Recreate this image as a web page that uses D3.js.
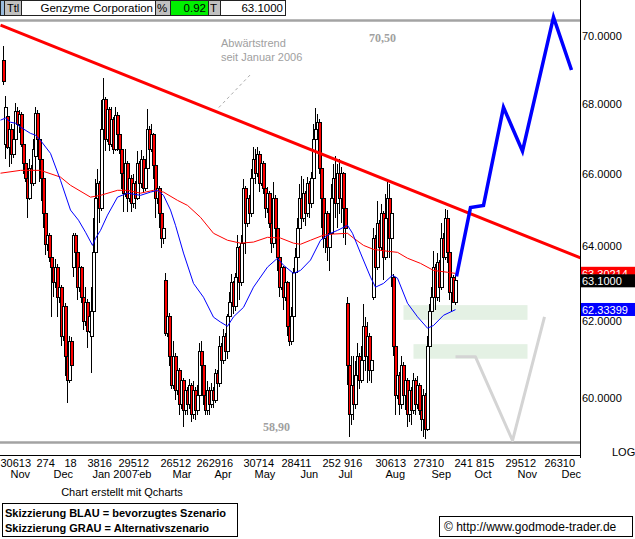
<!DOCTYPE html>
<html><head><meta charset="utf-8">
<script src="https://cdnjs.cloudflare.com/ajax/libs/d3/7.8.5/d3.min.js"></script>
<style>body{margin:0;background:#fff;}svg{display:block;font-family:"Liberation Sans",Arial,sans-serif;}</style>
</head><body><svg id="c" width="635" height="539"></svg>
<script>
// ---- DATA ----
const title = "Genzyme Corporation";
const changePct = "0.92";
const lastPrice = 63.10;
const ma200Last = 63.30214;
const ma20Last = 62.33399;
const opens = [69.32,66.88,67.68,66.80,67.31,66.60,67.02,67.82,67.45,67.74,66.88,66.32,65.90,65.35,66.18,65.76,66.54,67.77,67.02,66.46,
65.90,64.93,64.07,64.34,63.72,63.45,63.06,63.45,62.66,62.93,61.63,62.40,61.11,60.47,61.50,63.45,64.34,63.86,62.93,63.45,
62.66,62.01,62.53,61.76,61.63,62.27,63.86,65.35,65.76,65.07,67.31,68.16,67.02,67.88,66.88,67.59,66.74,67.71,67.16,66.74,
66.04,65.49,66.32,65.35,65.90,65.21,65.76,65.35,66.32,65.76,66.46,65.63,66.18,67.31,66.74,67.16,66.27,65.35,65.63,64.93,
64.26,63.11,61.70,62.14,61.11,60.35,61.11,60.22,60.73,59.85,60.47,59.72,60.22,59.85,60.35,59.60,60.22,59.72,60.10,61.24,
60.86,60.10,59.72,60.22,59.85,60.22,59.97,60.65,60.40,61.37,60.99,61.63,61.24,62.14,62.53,63.06,62.40,63.19,63.99,63.06,
64.12,65.63,64.66,65.35,64.93,65.90,66.46,66.04,66.60,65.76,66.32,65.63,65.07,65.49,64.66,64.12,65.35,64.53,63.72,62.93,
63.45,62.66,63.06,61.88,61.50,62.14,63.32,63.72,64.53,65.35,64.80,65.49,64.93,65.76,65.21,65.90,67.02,67.31,67.51,66.18,
65.35,64.26,64.93,63.99,64.39,65.35,65.90,65.21,66.04,65.35,66.04,65.07,62.50,60.86,59.60,60.35,59.85,60.60,61.11,60.47,
60.99,61.88,61.11,61.63,60.73,62.66,64.26,63.45,64.66,63.99,64.93,63.72,64.80,65.35,64.26,63.19,61.37,60.10,60.60,59.85,
60.86,60.10,60.47,59.60,60.22,59.72,60.47,59.85,60.35,59.72,59.47,60.10,59.23,61.37,62.27,62.66,63.45,62.66,63.59,62.93,
64.26,63.72,64.80,63.86,62.79,63.19,62.53];
const highs = [69.73,68.26,67.82,67.59,67.45,67.31,68.07,67.95,67.85,67.80,67.00,66.45,66.00,66.46,66.30,67.02,67.94,67.85,67.10,66.55,
66.00,65.00,64.60,64.40,64.18,63.60,63.70,63.55,63.32,63.00,62.74,62.50,61.20,61.63,61.60,64.40,64.40,63.95,63.64,63.50,
62.75,62.93,62.60,62.32,62.93,64.80,65.90,66.18,65.85,68.16,68.79,68.25,68.16,67.95,67.94,67.65,67.94,67.80,67.30,66.85,
66.10,66.74,66.40,66.26,66.00,66.04,65.85,66.68,66.40,66.71,66.55,66.30,67.88,67.40,67.45,67.20,66.35,65.82,65.70,65.00,
64.75,63.32,62.40,62.25,61.20,61.50,61.20,60.99,60.80,60.73,60.55,60.47,60.30,60.52,60.40,60.47,60.30,60.35,61.45,61.50,
60.95,60.20,60.47,60.30,60.42,60.30,60.78,60.75,61.63,61.45,61.81,61.70,62.22,62.79,63.27,63.10,63.32,64.34,64.05,64.34,
65.90,65.70,65.63,65.45,66.18,66.80,66.74,66.80,66.70,66.60,66.40,65.71,65.68,65.55,64.75,65.82,65.45,64.60,63.80,63.53,
63.50,63.32,63.10,61.95,62.40,63.45,63.99,64.80,65.76,65.98,65.90,65.55,65.95,65.85,66.10,67.45,67.91,67.74,67.60,66.60,
65.45,65.35,65.00,64.80,65.76,66.32,66.54,66.32,66.46,66.24,66.10,65.10,62.66,61.00,61.11,61.11,60.99,61.45,61.20,61.37,
62.48,62.14,62.01,61.70,61.11,64.53,64.35,65.27,64.75,65.21,65.00,65.49,65.82,65.76,65.35,63.27,61.45,60.86,60.70,61.11,
60.95,60.60,60.55,60.47,60.30,60.68,60.55,60.60,60.40,60.22,60.27,60.15,61.63,62.48,62.93,63.91,63.55,63.86,63.65,64.66,
64.40,65.07,65.02,63.95,63.45,63.25,63.24];
const lows = [68.59,66.46,66.74,66.24,66.32,66.50,66.95,67.30,67.20,66.80,66.04,65.80,64.80,65.30,65.60,65.70,66.40,66.95,65.82,65.27,
64.53,63.80,63.90,63.60,62.14,62.66,62.90,62.14,62.50,61.37,61.50,60.60,59.90,60.40,60.68,63.19,63.59,62.58,62.80,62.50,
61.80,61.90,61.32,61.70,60.68,62.20,63.80,65.07,64.66,65.00,67.20,66.68,66.95,66.68,66.80,66.60,66.70,66.68,66.60,65.63,
64.99,65.40,64.99,65.25,64.99,65.10,65.07,65.30,65.63,65.65,65.54,65.55,66.10,66.46,66.65,65.90,64.80,65.20,64.53,63.99,
64.10,61.63,61.60,60.86,60.27,60.25,59.97,60.10,59.60,59.75,59.28,59.60,59.60,59.75,59.42,59.50,59.47,59.60,60.00,60.73,
59.85,59.60,59.60,59.60,59.77,59.77,59.90,60.22,60.30,60.86,60.90,61.06,61.04,62.00,62.27,62.22,62.30,63.10,62.58,62.95,
64.00,63.83,64.55,64.66,64.85,65.80,65.76,65.95,65.54,65.70,65.49,64.80,64.95,64.53,63.86,64.00,64.26,63.37,62.66,62.85,
62.32,62.55,61.63,61.37,61.40,62.05,63.20,63.65,64.45,64.53,64.70,64.58,64.85,64.80,65.10,65.80,66.74,67.02,66.04,64.53,
63.99,63.86,63.64,63.37,64.30,65.07,64.80,64.53,64.93,64.66,64.26,64.07,60.35,59.03,59.35,59.47,59.75,60.50,60.27,60.40,
60.90,60.73,60.42,60.47,60.42,62.58,63.19,63.40,63.59,63.90,63.11,63.65,64.26,63.72,62.93,61.11,59.60,60.00,59.60,59.75,
59.92,59.72,59.28,59.42,59.35,59.62,59.60,59.75,59.60,59.18,59.03,58.98,59.20,61.29,62.10,62.55,62.32,62.55,62.53,62.85,
63.53,63.65,63.59,62.58,62.27,62.50,62.45];
const closes = [68.68,67.94,66.80,67.31,66.60,67.02,67.82,67.45,67.74,66.88,66.32,65.90,65.35,66.18,65.76,66.74,67.77,67.02,66.46,65.90,
64.93,64.07,64.34,63.72,63.45,63.06,63.45,62.66,62.93,61.63,62.40,61.11,60.47,61.50,60.86,64.34,63.86,62.93,63.45,62.66,
62.01,62.53,61.76,62.14,62.27,63.86,65.35,65.76,65.07,67.31,68.16,67.02,67.88,66.88,67.59,66.74,67.71,67.16,66.74,66.04,
65.49,66.32,65.35,65.90,65.21,65.76,65.35,66.32,65.76,66.46,65.63,66.18,67.31,66.74,67.16,66.27,65.35,65.63,64.93,64.26,
64.53,61.70,62.14,61.11,60.35,61.11,60.22,60.73,59.85,60.47,59.72,60.22,59.85,60.35,59.60,60.22,59.72,60.10,61.24,60.86,
60.10,59.72,60.22,59.85,60.22,59.97,60.65,60.40,61.37,60.99,61.63,61.24,62.14,62.53,63.06,62.40,63.19,63.99,63.06,64.12,
65.63,64.66,65.35,64.93,65.90,66.46,66.04,66.60,65.76,66.32,65.63,65.07,65.49,64.66,64.12,65.35,64.53,63.72,62.93,63.45,
62.66,63.06,61.88,61.50,62.14,63.32,63.72,64.53,65.35,64.80,65.49,64.93,65.76,65.21,65.90,67.02,67.31,67.51,66.18,65.35,
64.26,64.93,63.99,64.39,65.35,65.90,65.21,66.04,65.35,66.04,65.07,64.53,60.86,59.60,60.35,59.85,60.60,61.11,60.47,60.99,
61.88,61.11,61.63,60.73,60.99,64.26,63.45,64.66,63.99,64.93,63.72,64.80,65.35,64.26,64.93,61.37,60.10,60.60,59.85,60.86,
60.10,60.47,59.60,60.22,59.72,60.47,59.85,60.35,59.72,59.47,60.10,59.23,61.37,62.27,62.66,63.45,62.66,63.59,62.93,64.26,
63.72,64.80,63.86,62.79,63.19,62.53,63.10];
// slow moving average (red) and fast moving average (blue): [trading-day index, price]
const maSlow = [[-1.5,66.06],[8.5,66.14],[18.5,66.14],[28.5,65.95],[33.5,65.72],[43.5,65.39],[48.5,65.44],[57,65.58],[62,65.58],[68.5,65.50],
[75,65.58],[80,65.53],[87,65.30],[92,65.16],[98.5,64.83],[105,64.39],[112,64.20],[118.5,64.12],[125,64.15],[132,64.28],[138.5,64.26],
[145,64.12],[148.5,64.09],[153.5,64.20],[160,64.34],[165,64.37],[172,64.39],[175,64.26],[180,64.06],[185,63.95],[192,63.90],[197,63.87],
[202,63.71],[208.5,63.57],[215,63.38],[222,63.33],[226,63.30]];
const maFast = [[-1.5,67.57],[1,67.63],[3.5,67.51],[6,67.48],[8.5,67.37],[13.5,67.19],[16,67.14],[18.5,66.99],[23.5,66.62],[28.5,65.86],
[33.5,65.03],[37.5,64.75],[41,64.42],[44.5,64.06],[46,64.25],[48.5,64.47],[52,64.89],[57,65.39],[62,65.50],[68.5,65.44],[73.5,65.53],
[77,65.58],[80,65.44],[83.5,65.03],[86,64.61],[90,63.85],[95,63.03],[100,62.66],[105,62.13],[108.5,62.00],[112,61.89],[115,62.14],
[120,62.39],[125,62.93],[132,63.47],[137,63.71],[140,63.52],[145,63.30],[148.5,63.38],[153.5,63.66],[158.5,64.20],[163.5,64.39],
[167,64.47],[172,64.61],[174.5,64.39],[178.5,63.85],[183.5,63.20],[186,62.93],[190,63.03],[194.5,63.25],[197,63.17],[202,62.50],
[207,62.14],[212,61.84],[215,61.91],[220,62.18],[226,62.33]];
const trendLine = [[-1.5,70.36],[288.5,63.72]];
const scenarioBlue = [[226.5,63.22],[233.5,65.10],[240,65.16],[250,67.94],[259.5,66.68],[275,70.60],[284,69.03]];
const scenarioGray = [[226,61.09],[236,61.09],[254.5,58.95],[270.5,62.14]];
const zones = [[200,262,62.45,62.06],[205,262,61.42,61.04]];
const levels = [70.50,58.90];
const levelLabels = ["70,50","58,90"];
const yTicks = [60,62,64,66,68,70];
const dayLabels = ["30613","274","18","3816","29512","26512","262916","30714","28411","252 916","30613","27310","241 815","29512","26310"];
const dayIdx = [-1.5,16.5,30.5,42,57.5,78.5,96.5,120,139,159.5,186,205,225.5,251,270.5];
const monthLabels = ["Nov","Dec","Jan 2007","Feb","Mar","Apr","May","Jun","Jul","Aug","Sep","Oct","Nov","Dec"];
const monthIdx = [3.5,25,44.5,64.5,84.5,105.5,125.5,148.5,167.5,191,214,235.5,257,279];

// ---- DRAW ----
const svg = d3.select("#c");
const x = d3.scaleLinear().domain([0,1]).range([3.5,5.5]);
const y = d3.scaleLog().domain([70.5,58.9]).range([20.5,442.5]);
const line = d3.line().x(d=>x(d[0])).y(d=>y(d[1]));

// header
const hdr = svg.append("g").attr("shape-rendering","crispEdges");
const hb = [[0,4,"#99bbdd"],[4,21,"#c0c0c0"],[21,155,"#fff"],[155,170,"#c0c0c0"],[170,208,"#00f000"],[208,220,"#c0c0c0"],[220,285,"#fff"]];
hb.forEach(b=>hdr.append("rect").attr("x",b[0]+0.5).attr("y",0.5).attr("width",b[1]-b[0]).attr("height",15).attr("fill",b[2]).attr("stroke","#222"));
const ht = [[7,"Ttl","start",11],[153,title,"end",11.5],[157,"%","start",11.5],[206,changePct,"end",11.5],[210,"T","start",11.5],[283,lastPrice.toFixed(4),"end",11.5]];
ht.forEach(t=>svg.append("text").attr("x",t[0]).attr("y",12).attr("text-anchor",t[2]).attr("font-size",t[3]).attr("fill","#000").text(t[1]));

// zones
zones.forEach(z=>svg.append("rect").attr("x",x(z[0])).attr("width",x(z[1])-x(z[0]))
  .attr("y",y(z[2])).attr("height",y(z[3])-y(z[2])).attr("fill","#e4f1e4"));
// level lines
levels.forEach(v=>svg.append("line").attr("x1",0).attr("x2",580).attr("y1",y(v)).attr("y2",y(v))
  .attr("stroke","#a3a3a3").attr("stroke-width",2.5));

// candles
const cg = svg.append("g").attr("shape-rendering","crispEdges");
closes.forEach((c,i)=>{
  const o=opens[i],h=highs[i],l=lows[i],cx=x(i);
  cg.append("line").attr("x1",cx).attr("x2",cx).attr("y1",y(h)).attr("y2",y(l)).attr("stroke","#000");
  const t=y(Math.max(o,c)), b=y(Math.min(o,c));
  cg.append("rect").attr("x",cx-1.5).attr("width",3).attr("y",t).attr("height",Math.max(1,b-t))
    .attr("fill",c>=o?"#fff":"#ff0000").attr("stroke","#000");
});

// moving averages
svg.append("path").attr("d",line(maSlow)).attr("fill","none").attr("stroke","#ff0000").attr("stroke-width",1);
svg.append("path").attr("d",line(maFast)).attr("fill","none").attr("stroke","#0000ff").attr("stroke-width",1);
// trend line
svg.append("path").attr("d",line(trendLine)).attr("fill","none").attr("stroke","#ff0000").attr("stroke-width",3);
// scenarios
svg.append("path").attr("d",line(scenarioGray)).attr("fill","none").attr("stroke","#d4d4d4").attr("stroke-width",3).attr("stroke-linejoin","round");
svg.append("path").attr("d",line(scenarioBlue)).attr("fill","none").attr("stroke","#0000ff").attr("stroke-width",3.5);

// annotation
svg.append("line").attr("x1",x(123.25)).attr("y1",y(68.88)).attr("x2",x(107.25)).attr("y2",y(67.91))
  .attr("stroke","#aaa").attr("stroke-dasharray","3,3");
svg.append("text").attr("x",221).attr("y",47).attr("font-size",11).attr("fill","#a0a0a0").text("Abwärtstrend");
svg.append("text").attr("x",221).attr("y",61).attr("font-size",11).attr("fill","#a0a0a0").text("seit Januar 2006");
svg.append("text").attr("x",369).attr("y",y(levels[0])+21).attr("font-family","'Liberation Serif',serif").attr("font-weight","bold")
  .attr("font-size",12).attr("fill","#a0a0a0").text(levelLabels[0]);
svg.append("text").attr("x",263).attr("y",y(levels[1])-12).attr("font-family","'Liberation Serif',serif").attr("font-weight","bold")
  .attr("font-size",12).attr("fill","#a0a0a0").text(levelLabels[1]);

// axes frame
svg.append("line").attr("x1",580.5).attr("x2",580.5).attr("y1",0).attr("y2",458).attr("stroke","#000").attr("shape-rendering","crispEdges");
svg.append("line").attr("x1",0).attr("x2",580).attr("y1",455.5).attr("y2",455.5).attr("stroke","#000").attr("shape-rendering","crispEdges");

// y labels
yTicks.forEach(v=>svg.append("text").attr("x",582).attr("y",y(v)+2.5).attr("font-size",11).text(v.toFixed(4)));
// value boxes
[[ma200Last,"#ff0000",5],[lastPrice,"#000000",4],[ma20Last,"#0000ff",5]].forEach(b=>{
  const cy=y(b[0]);
  svg.append("rect").attr("x",581).attr("y",cy-6.5).attr("width",54).attr("height",13).attr("fill",b[1]);
  svg.append("text").attr("x",582).attr("y",cy+4.5).attr("font-size",11).attr("fill","#fff").text(b[0].toFixed(b[2]));
});
svg.append("text").attr("x",612).attr("y",456).attr("font-size",11).text("LOG");

// x labels
dayLabels.forEach((t,i)=>svg.append("text").attr("x",x(dayIdx[i])).attr("y",467).attr("font-size",11).text(t));
for(let i=monthLabels.length-1;i>=0;i--){
  const t=svg.append("text").attr("x",x(monthIdx[i])).attr("y",478).attr("font-size",11).text(monthLabels[i]);
  const bb=t.node().getBBox();
  svg.insert("rect","text:last-of-type").attr("x",bb.x).attr("y",bb.y).attr("width",bb.width).attr("height",bb.height).attr("fill","#fff");
  t.raise();
}

// footer
svg.append("text").attr("x",122).attr("y",496).attr("text-anchor","middle").attr("font-size",11).text("Chart erstellt mit Qcharts");
svg.append("rect").attr("x",2.5).attr("y",503.5).attr("width",235).attr("height",33).attr("fill","#fff").attr("stroke","#000");
svg.append("text").attr("x",5).attr("y",517).attr("font-size",11).attr("font-weight","bold").text("Skizzierung BLAU = bevorzugtes Szenario");
svg.append("text").attr("x",5).attr("y",532).attr("font-size",11).attr("font-weight","bold").text("Skizzierung GRAU = Alternativszenario");
svg.append("rect").attr("x",439.5).attr("y",516.5).attr("width",193).attr("height",20).attr("fill","#fff").attr("stroke","#000");
svg.append("text").attr("x",444).attr("y",531).attr("font-size",12).text("© http://www.godmode-trader.de");
</script></body></html>
